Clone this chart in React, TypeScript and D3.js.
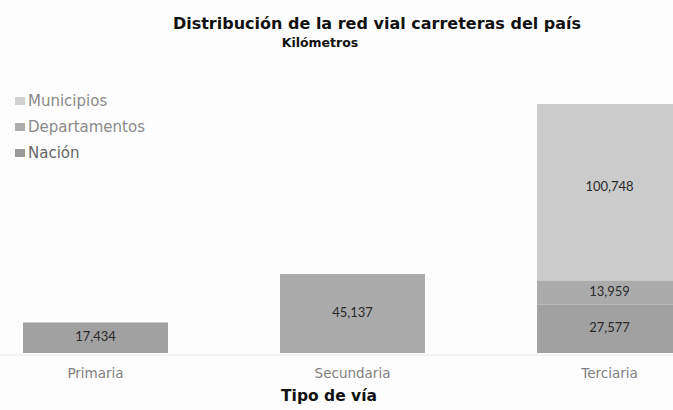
import * as d3 from "d3";
import { useEffect, useRef } from "react";

const CATEGORIES = ["Primaria", "Secundaria", "Terciaria"];
const SERIES = ["Nación", "Departamentos", "Municipios"];
// km per category, per series (Nación, Departamentos, Municipios)
const NACION = [17434, 0, 27577];
const DEPARTAMENTOS = [0, 45137, 13959];
const MUNICIPIOS = [0, 0, 100748];
const LEGEND_ORDER = ["Municipios", "Departamentos", "Nación"];

const COLORS: Record<string, string> = {
  Nación: "#a1a1a1",
  Departamentos: "#ababab",
  Municipios: "#cbcbcb",
};
const SWATCH: Record<string, string> = {
  Nación: "#9a9a9a",
  Departamentos: "#acacac",
  Municipios: "#d2d2d2",
};

const W = 673;
const H = 410;
const FONT = "'DejaVu Sans', sans-serif";
const NUM_FONT = "Lato, 'Open Sans', sans-serif";

export default function App() {
  const svgRef = useRef<SVGSVGElement>(null);

  useEffect(() => {
    const svg = d3.select(svgRef.current);
    svg.selectAll("*").remove();

    const rows = CATEGORIES.map((c, i) => ({
      cat: c,
      Nación: NACION[i],
      Departamentos: DEPARTAMENTOS[i],
      Municipios: MUNICIPIOS[i],
    }));
    const stacked = d3.stack<any>().keys(SERIES)(rows);

    const x = d3
      .scaleBand()
      .domain(CATEGORIES)
      .range([-33, 738])
      .paddingInner(0.436)
      .paddingOuter(0.218);
    const yMax = d3.max(rows, (r) => r.Nación + r.Departamentos + r.Municipios) ?? 1;
    const y = d3.scaleLinear().domain([0, yMax]).range([353, 104]);

    svg.append("rect").attr("width", W).attr("height", H).attr("fill", "#fdfdfd");

    // faint baseline
    svg
      .append("line")
      .attr("x1", 0)
      .attr("x2", W)
      .attr("y1", y(0) + 2)
      .attr("y2", y(0) + 2)
      .attr("stroke", "#e8e8e8")
      .attr("stroke-width", 1);

    stacked.forEach((layer) => {
      const key = layer.key;
      layer.forEach((d: any) => {
        const v = d[1] - d[0];
        if (v <= 0) return;
        const cat = d.data.cat;
        const bx = x(cat) ?? 0;
        svg
          .append("rect")
          .attr("x", bx)
          .attr("y", y(d[1]))
          .attr("width", x.bandwidth())
          .attr("height", y(d[0]) - y(d[1]))
          .attr("fill", COLORS[key]);
        const big = v > 60000;
        svg
          .append("text")
          .attr("x", bx + x.bandwidth() / 2)
          .attr("y", (y(d[0]) + y(d[1])) / 2 - (big ? 6 : 1))
          .attr("dy", "0.35em")
          .attr("text-anchor", "middle")
          .attr("fill", "#2a2a2a")
          .attr("font-size", 13)
          .attr("font-family", NUM_FONT)
          .text(d3.format(",")(v));
      });
    });

    // category labels
    CATEGORIES.forEach((c) => {
      svg
        .append("text")
        .attr("x", (x(c) ?? 0) + x.bandwidth() / 2)
        .attr("y", 378)
        .attr("text-anchor", "middle")
        .attr("fill", "#808080")
        .attr("font-size", 13.5)
        .attr("font-family", FONT)
        .text(c);
    });

    // axis title
    svg
      .append("text")
      .attr("x", 329)
      .attr("y", 401)
      .attr("text-anchor", "middle")
      .attr("fill", "#111")
      .attr("font-size", 15.5)
      .attr("font-weight", "bold")
      .attr("font-family", FONT)
      .text("Tipo de vía");

    // titles
    svg
      .append("text")
      .attr("x", 377)
      .attr("y", 29)
      .attr("text-anchor", "middle")
      .attr("fill", "#111")
      .attr("font-size", 16)
      .attr("font-weight", "bold")
      .attr("font-family", FONT)
      .text("Distribución de la red vial carreteras del país");
    svg
      .append("text")
      .attr("x", 320)
      .attr("y", 47)
      .attr("text-anchor", "middle")
      .attr("fill", "#111")
      .attr("font-size", 12.5)
      .attr("font-weight", "bold")
      .attr("font-family", FONT)
      .text("Kilómetros");

    // legend
    LEGEND_ORDER.forEach((k, i) => {
      const cy = 101 + i * 26;
      svg
        .append("rect")
        .attr("x", 15)
        .attr("y", cy - 4)
        .attr("width", 10)
        .attr("height", 8)
        .attr("fill", SWATCH[k]);
      svg
        .append("text")
        .attr("x", 28)
        .attr("y", cy)
        .attr("dy", "0.35em")
        .attr("fill", k === "Nación" ? "#666" : "#8a8a8a")
        .attr("font-size", 15)
        .attr("font-family", FONT)
        .text(k);
    });
  }, []);

  return (
    <svg
      ref={svgRef}
      width={W}
      height={H}
      style={{ position: "absolute", left: 0, top: 0, display: "block" }}
    />
  );
}
